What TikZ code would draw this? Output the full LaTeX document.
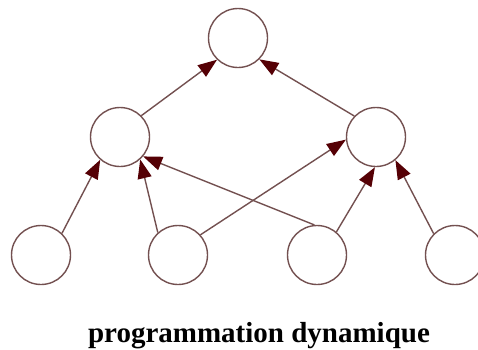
\documentclass[tikz,border=0pt]{standalone}
\usepackage{fontspec}
\setmainfont{Liberation Serif}
\usetikzlibrary{arrows.meta}
\definecolor{brun}{RGB}{115,80,80}
\definecolor{bordeaux}{RGB}{85,0,5}

\begin{document}
\begin{tikzpicture}[x=1pt, y=-1pt,
    etat/.style={circle, draw=brun, line width=1.4pt, minimum size=59pt, inner sep=0pt},
    fleche/.style={draw=brun, line width=1.4pt, -{Triangle[length=19pt, width=14pt, color=bordeaux]}}]
  \useasboundingbox (0,0) rectangle (478,349);
  \node[etat](haut) at (238,38) {};
  \node[etat](gauche) at (120,137) {};
  \node[etat](droite) at (376,137) {};
  \node[etat](b1) at (41,255) {};
  \node[etat](b2) at (178,255) {};
  \node[etat](b3) at (317,255) {};
  \node[etat](b4) at (455,255) {};
  \draw[fleche] (gauche.45) -- (haut.-134);
  \draw[fleche] (droite.136) -- (haut.-45);
  \draw[fleche] (b1.46) -- (gauche.-131);
  \draw[fleche] (b2.132) -- (gauche.-48);
  \draw[fleche] (b3.95) -- (gauche.-40);
  \draw[fleche] (b2.42) -- (droite.185);
  \draw[fleche] (b3.50) -- (droite.-92);
  \draw[fleche] (b4.135) -- (droite.-50);
  \node[anchor=base, font=\bfseries\fontsize{29}{30}\selectfont](titre) at (259,342) {programmation dynamique};
\end{tikzpicture}
\end{document}
